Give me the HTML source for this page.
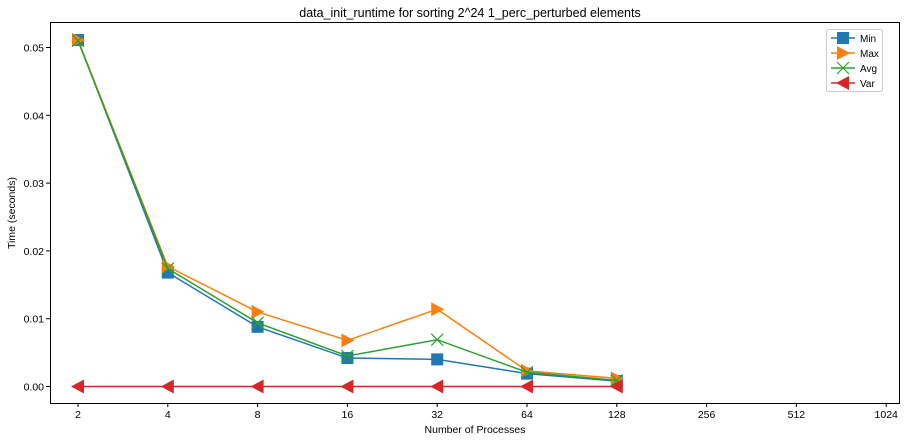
<!DOCTYPE html>
<html><head><meta charset="utf-8"><style>
body{margin:0;background:#fff;font-family:"Liberation Sans",sans-serif;}
svg text{font-family:"Liberation Sans",sans-serif;}
</style></head><body>
<svg id="chart" width="907" height="441" xmlns="http://www.w3.org/2000/svg">
<rect width="907" height="441" fill="#fff"/>
<text x="470" y="17" font-size="12.5" text-anchor="middle">data_init_runtime for sorting 2^24 1_perc_perturbed elements</text>
<g id="axes"></g>
<g id="series"></g>
<rect x="50.5" y="22.5" width="849" height="381" fill="none" stroke="#000" stroke-width="1"/>
<text x="475" y="433" font-size="10.5" text-anchor="middle">Number of Processes</text>
<text transform="translate(15,213) rotate(-90)" font-size="10.5" text-anchor="middle">Time (seconds)</text>
<g>
<rect x="826.5" y="29.5" width="56" height="62" fill="#fff" stroke="#ccc" rx="2"/>
<g id="legend-items"></g>
</g>
</svg>
<script>
const categories=["2","4","8","16","32","64","128","256","512","1024"];
const minVals=[0.0511,0.0168,0.0088,0.0042,0.0040,0.0019,0.0008];
const maxVals=[0.0511,0.0177,0.0110,0.0068,0.0114,0.0023,0.0012];
const avgVals=[0.0510,0.0174,0.0094,0.0045,0.0069,0.0021,0.0009];
const varVals=[0,0,0,0,0,0,0];
const yTicks=["0.00","0.01","0.02","0.03","0.04","0.05"];
const NS="http://www.w3.org/2000/svg";
function xs(i){return 78+i*89.8;}
function ys(v){return 386.5-v*6780;}
function mk(tag,attrs,parent){const e=document.createElementNS(NS,tag);for(const k in attrs)e.setAttribute(k,attrs[k]);parent.appendChild(e);return e;}
const axes=document.getElementById('axes');
categories.forEach((c,i)=>{
 const t=mk('line',{x1:xs(i),x2:xs(i),y1:403,y2:407,stroke:'#000'},axes);
 
 
 const l=mk('text',{x:xs(i),y:418,'font-size':10.5,'text-anchor':'middle'},axes);l.textContent=c;
 
 
});
yTicks.forEach(s=>{
 const y=ys(parseFloat(s));
 const t=mk('line',{x1:46,x2:50,y1:y,y2:y,stroke:'#000'},axes);
 
 
 const l=mk('text',{x:44,y:y+4,'font-size':10.5,'text-anchor':'end'},axes);l.textContent=s;
 
 
});
function marker(type,x,y,color,p){
 let e;
 if(type==='s')e=mk('rect',{x:x-6,y:y-6,width:12,height:12,fill:color},p);
 else if(type==='r')e=mk('polygon',{points:`${x+7},${y} ${x-6},${y-7} ${x-6},${y+7}`,fill:color},p);
 else if(type==='l')e=mk('polygon',{points:`${x-7},${y} ${x+6},${y-7} ${x+6},${y+7}`,fill:color},p);
 else e=mk('path',{d:`M${x-6},${y-6}L${x+6},${y+6}M${x-6},${y+6}L${x+6},${y-6}`,stroke:color,'stroke-width':1.2,fill:'none'},p);
 return e;
}
const series=[["Min",minVals,'#1f77b4','s'],["Max",maxVals,'#ff7f0e','r'],["Avg",avgVals,'#2ca02c','x'],["Var",varVals,'#d62728','l']];
const sg=document.getElementById('series');
series.forEach(([name,vals,color,m])=>{
 const g=mk('g',{},sg);
 
 
 mk('polyline',{points:vals.map((v,i)=>xs(i)+','+ys(v)).join(' '),fill:'none',stroke:color,'stroke-width':1.5},g);
 vals.forEach((v,i)=>{const e=marker(m,xs(i),ys(v),color,g);
  
  });
});
const lg=document.getElementById('legend-items');
series.forEach(([name,vals,color,m],i)=>{
 const y=38+i*15;
 const g=mk('g',{},lg);
 
 
 mk('line',{x1:831,x2:855,y1:y,y2:y,stroke:color,'stroke-width':1.5},g);
 marker(m,843,y,color,g);
 const t=mk('text',{x:860,y:y+4,'font-size':10},g);t.textContent=name;
});
</script>
</body></html>
